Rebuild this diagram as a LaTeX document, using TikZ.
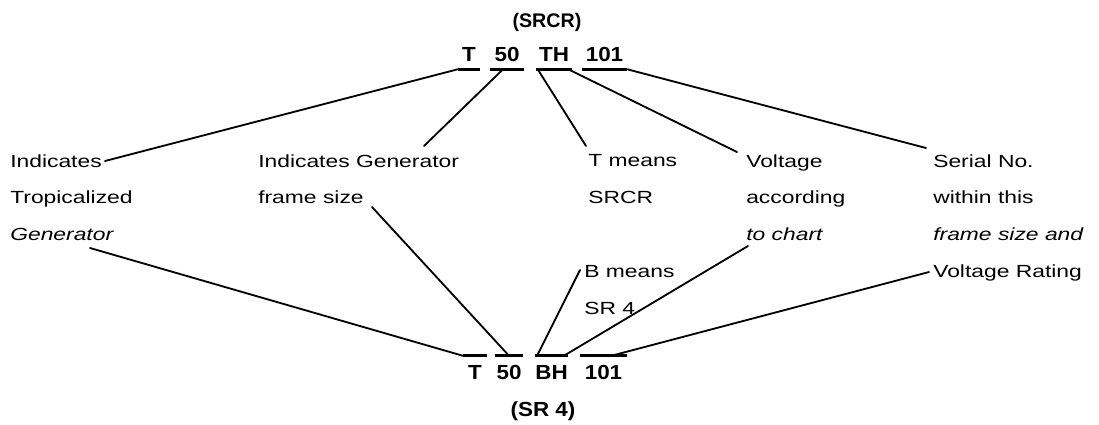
\documentclass[tikz,border=0pt]{standalone}
\usepackage{fontspec}
\setmainfont{Liberation Sans}
\newfontfamily\lblfont[FakeStretch=1.3]{Liberation Sans}
\newfontfamily\codefont[FakeStretch=1.1]{Liberation Sans}
\usetikzlibrary{calc}

\begin{document}
\begin{tikzpicture}[
  x=0.025cm, y=-0.025cm,
  lbl/.style={anchor=north west, inner sep=0pt, align=left, font=\lblfont\fontsize{12.5}{26.2}\selectfont},
  code/.style={inner xsep=0pt, inner ysep=0.2cm, text height=0.375cm, text depth=0pt, font=\codefont\bfseries\fontsize{14.5}{16}\selectfont},
  tag/.style={inner sep=0pt, font=\codefont\bfseries\fontsize{14.5}{16}\selectfont},
  conn/.style={line width=1.3pt, line cap=round, line join=round},
  ul/.style={line width=2.2pt}
]
  \useasboundingbox (0,0) rectangle (1099,424);

  % top code (SRCR)
  \node[tag, anchor=base, font=\bfseries\fontsize{14}{16}\selectfont] (srcr) at (547,27) {(SRCR)};
  \node[code, minimum width=0.55cm]  (tT)   at (469,53.5)   {T};
  \node[code, minimum width=0.85cm]  (t50)  at (507,53.5)   {50};
  \node[code, minimum width=0.9cm]   (tTH)  at (554,53.5)   {TH};
  \node[code, minimum width=1.125cm] (t101) at (604.5,53.5) {101};

  % bottom code (SR 4)
  \node[code, minimum width=0.6cm]   (bT)   at (475,371.5)   {T};
  \node[code, minimum width=0.7cm]   (b50)  at (509,371.5)   {50};
  \node[code, minimum width=0.775cm] (bBH)  at (551.5,371.5) {BH};
  \node[code, minimum width=1.175cm] (b101) at (603.5,371.5) {101};
  \node[tag, anchor=base] (sr4) at (543,416) {(SR 4)};

  % explanations
  \node[lbl] (tropic) at (10,154)  {Indicates\\Tropicalized\\\itshape Generator};
  \node[lbl] (frame)  at (258,154) {Indicates Generator\\frame size};
  \node[lbl] (tmeans) at (588,154) {T means\\SRCR};
  \node[lbl] (volt)   at (746,154) {Voltage\\according\\\itshape to chart};
  \node[lbl] (serial) at (933,154) {Serial No.\\within this\\\itshape frame size and\\Voltage Rating};
  \node[lbl] (bmeans) at (584,265) {B means\\SR 4};

  % free ends at the texts
  \coordinate (eInd)   at (105,161);
  \coordinate (eGen)   at (90,248);
  \coordinate (eGenT)  at (424,146);
  \coordinate (eSize)  at (372,207);
  \coordinate (eTm)    at (586,146);
  \coordinate (eBm)    at (580,270);
  \coordinate (eVolt)  at (737,152);
  \coordinate (eChart) at (748,246);
  \coordinate (eSer)   at (926,148);
  \coordinate (eRate)  at (929,272);

  % underlines
  \foreach \c in {tT,t50,tTH,t101}
    \draw[ul] (\c.south west) -- (\c.south east);
  \foreach \c in {bT,b50,bBH,b101}
    \draw[ul] (\c.north west) -- (\c.north east);

  % leaders to the top code
  \draw[conn] (eInd) -- (tT.south west);
  \draw[conn] (eGenT) -- ([xshift=-0.1cm]t50.south);
  \draw[conn] (eTm) -- ([xshift=0.05cm]tTH.south west);
  \draw[conn] (eVolt) -- ([xshift=-0.1cm]tTH.south east);
  \draw[conn] (eSer) -- (t101.south east);

  % leaders to the bottom code
  \draw[conn] (eGen) -- (bT.north west);
  \draw[conn] (eSize) -- (b50.north);
  \draw[conn] (eBm) -- ([xshift=0.05cm]bBH.north west);
  \draw[conn] (eChart) -- ([xshift=-0.1cm]bBH.north east);
  \draw[conn] (eRate) -- ([xshift=0.2cm]b101.north);
\end{tikzpicture}
\end{document}
